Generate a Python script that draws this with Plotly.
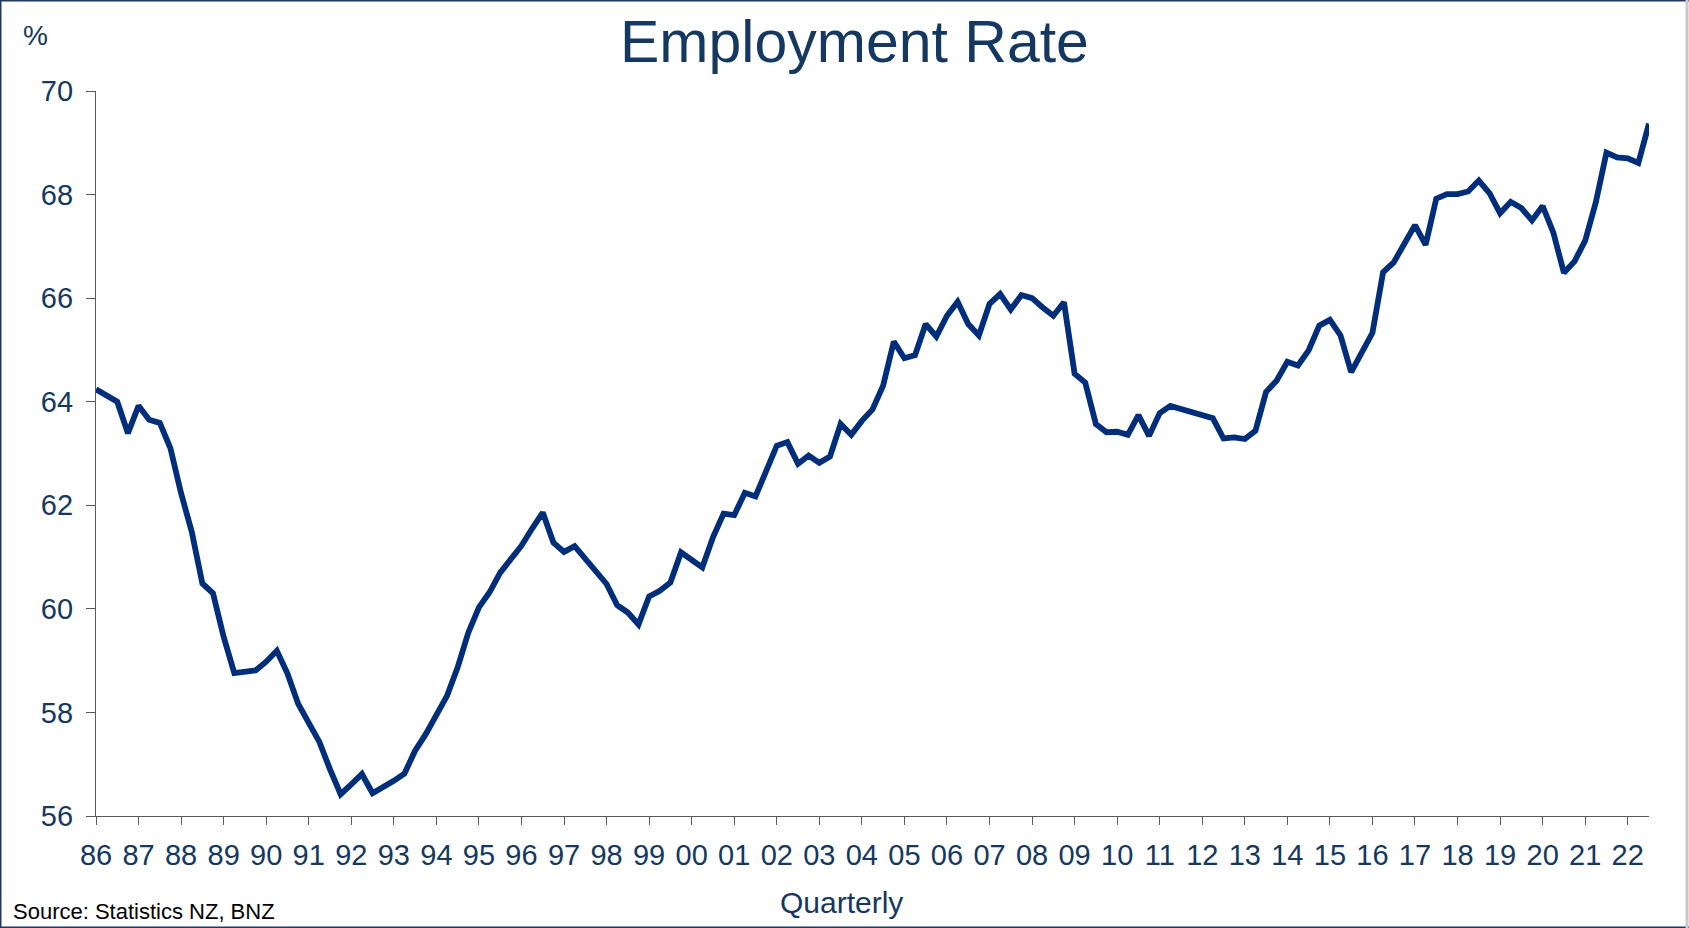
import plotly.graph_objects as go

# ---- data (quarterly, 1986Q1 .. 2022Q3), % of working-age population employed ----
years = list(range(1986, 2023))
tick_labels = [f"{y % 100:02d}" for y in years]
rate_86_95 = [64.24, 64.11, 64.00, 63.39, 63.92, 63.65, 63.59, 63.10,
              62.23, 61.49, 60.49, 60.30, 59.46, 58.76, 58.78, 58.81,
              58.98, 59.19, 58.75, 58.17, 57.80, 57.43, 56.90, 56.42,
              56.61, 56.81, 56.44, 56.55, 56.68, 56.82, 57.26, 57.58,
              57.93, 58.32, 58.87, 59.54, 60.03, 60.32, 60.70, 60.96]
rate_96_05 = [61.22, 61.55, 61.86, 61.28, 61.10, 61.21, 60.96, 60.75,
              60.48, 60.07, 59.93, 59.70, 60.24, 60.35, 60.51, 61.09,
              60.93, 60.80, 61.38, 61.84, 61.81, 62.24, 62.17, 62.64,
              63.15, 63.22, 62.80, 62.96, 62.82, 62.94, 63.57, 63.36,
              63.63, 63.85, 64.31, 65.16, 64.84, 64.90, 65.50, 65.26]
rate_06_15 = [65.66, 65.93, 65.50, 65.28, 65.89, 66.08, 65.78, 66.06,
              66.00, 65.82, 65.66, 65.92, 64.54, 64.37, 63.57, 63.41,
              63.42, 63.36, 63.74, 63.34, 63.78, 63.92, 63.86, 63.78,
              63.73, 63.68, 63.29, 63.31, 63.28, 63.44, 64.19, 64.41,
              64.77, 64.70, 64.99, 65.47, 65.58, 65.28, 64.57, 64.94]
rate_16_22 = [65.33, 66.50, 66.69, 67.05, 67.41, 67.03, 67.92, 68.01,
              68.01, 68.06, 68.27, 68.03, 67.64, 67.86, 67.74, 67.50,
              67.78, 67.27, 66.49, 66.71, 67.11, 67.85, 68.81, 68.72,
              68.70, 68.61, 69.37]
rate = rate_86_95 + rate_96_05 + rate_06_15 + rate_16_22
quarter_index = list(range(len(rate)))
y_ticks = [56, 58, 60, 62, 64, 66, 68, 70]

# ---- layout geometry ----
W, H = 1689, 928
ML, MR, MT, MB = 96, 40, 91, 112
PW, PH = W - ML - MR, H - MT - MB

def px(x):
    return (x - ML) / PW

def py(y):
    return (H - MB - y) / PH

NAVY_TEXT = "#14385F"
LINE = "#002E7A"
FONT = "Arial, Liberation Sans, sans-serif"

fig = go.Figure()
fig.add_trace(go.Scatter(
    x=quarter_index, y=rate, mode="lines",
    line=dict(color=LINE, width=5.8, shape="linear"),
    hoverinfo="skip", showlegend=False,
))

fig.update_layout(
    width=W, height=H,
    margin=dict(l=ML, r=MR, t=MT, b=MB, pad=0),
    paper_bgcolor="white", plot_bgcolor="white",
    font=dict(family=FONT, color=NAVY_TEXT),
    showlegend=False,
)

fig.update_xaxes(
    range=[0, len(rate) - 1],
    tickmode="array",
    tickvals=[4 * i for i in range(len(years))],
    ticktext=tick_labels,
    ticks="outside", ticklen=8, tickwidth=1.2, tickcolor="#595959",
    showline=True, linecolor="#595959", linewidth=1.3,
    showgrid=False, zeroline=False,
    tickfont=dict(size=29, color=NAVY_TEXT, family=FONT),
    ticklabelstandoff=5,
)
fig.update_yaxes(
    range=[56, 70],
    tickmode="array", tickvals=y_ticks, ticktext=[str(v) for v in y_ticks],
    ticks="outside", ticklen=9, tickwidth=1.2, tickcolor="#595959",
    showline=True, linecolor="#595959", linewidth=1.3,
    showgrid=False, zeroline=False,
    tickfont=dict(size=29, color=NAVY_TEXT, family=FONT),
    ticklabelstandoff=7,
)

annotations = [
    dict(text="Employment Rate", x=px(854), y=py(42), xanchor="center", yanchor="middle",
         font=dict(size=59, color=NAVY_TEXT, family=FONT)),
    dict(text="%", x=px(35), y=py(35), xanchor="center", yanchor="middle",
         font=dict(size=28, color=NAVY_TEXT, family=FONT)),
    dict(text="Quarterly", x=px(841), y=py(902), xanchor="center", yanchor="middle",
         font=dict(size=30, color=NAVY_TEXT, family=FONT)),
    dict(text="Source: Statistics NZ, BNZ", x=px(11), y=py(911), xanchor="left", yanchor="middle",
         font=dict(size=22, color="#000000", family=FONT)),
]
for a in annotations:
    a.update(xref="paper", yref="paper", showarrow=False)
fig.update_layout(annotations=annotations)

# border around the whole picture
shapes = [
    dict(type="line", x0=px(0.75), x1=px(0.75), y0=py(0), y1=py(H), line=dict(color="#1F3864", width=1.5)),
    dict(type="line", x0=px(0), x1=px(W), y0=py(0.75), y1=py(0.75), line=dict(color="#1F3864", width=1.5)),
    dict(type="line", x0=px(0), x1=px(W), y0=py(H - 0.75), y1=py(H - 0.75), line=dict(color="#1F3864", width=1.5)),
    dict(type="line", x0=px(W - 2), x1=px(W - 2), y0=py(0), y1=py(H), line=dict(color="#C8C8C8", width=3)),
]
for s in shapes:
    s.update(xref="paper", yref="paper", layer="above")
fig.update_layout(shapes=shapes)

fig.write_html("out.html", config={"displayModeBar": False},
               post_script="document.body.style.margin='0';document.body.style.overflow='hidden';")
